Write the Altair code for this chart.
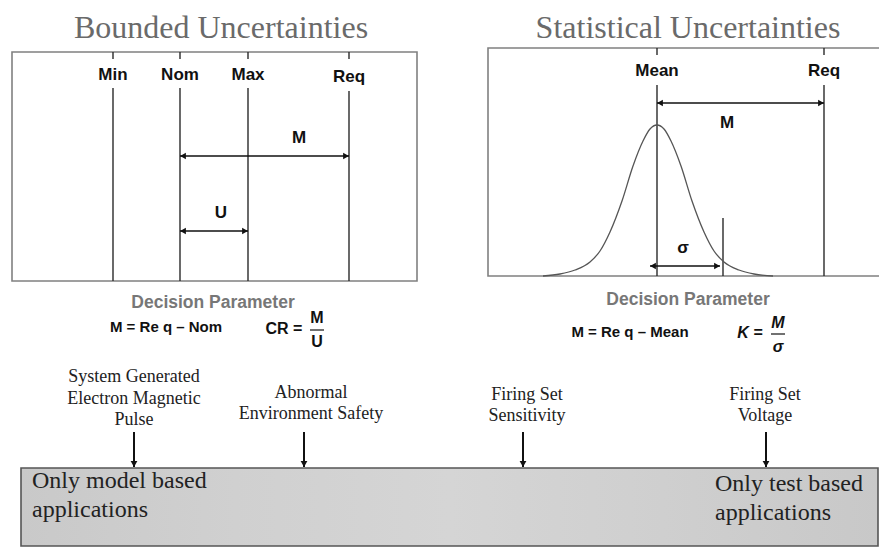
import altair as alt
import pandas as pd

# ---------------- data (diagram units = pixels) ----------------
panel_titles = ["Bounded Uncertainties", "Statistical Uncertainties"]
panel_title_x = [221, 688]
panel_title_y = [28, 28]

# bounded panel
bounded_frame_x = [12, 417]
bounded_frame_y = [52, 281]
bounded_labels = ["Min", "Nom", "Max", "Req"]
bounded_pos = [113, 180, 248, 349]
bounded_label_y = [75, 75, 75, 77]
bounded_line_top = [88, 88, 88, 91]
bounded_spans = ["M", "U"]
bounded_span_from = [180, 180]
bounded_span_to = [349, 248]
bounded_span_y = [156, 231]
bounded_span_label_x = [299, 221]
bounded_span_label_y = [138, 213]

# statistical panel
stat_frame_x = [488, 900]
stat_frame_y = [48, 276]
stat_labels = ["Mean", "Req"]
stat_pos = [657, 824]
stat_label_y = [71, 71]
stat_line_top = [85, 85]
stat_spans = ["M", "σ"]
stat_span_from = [657, 650]
stat_span_to = [824, 720]
stat_span_y = [103, 266]
stat_span_label_x = [727, 683]
stat_span_label_y = [123, 248]
sigma_marker_x = [723]
sigma_marker_top = [218]

curve_x = [543, 560, 575, 590, 600, 610, 622, 633, 643, 650, 657,
           664, 671, 681, 692, 704, 714, 724, 739, 754, 773]
curve_y = [276, 274, 270, 262, 251, 232, 201, 166, 141, 129, 125,
           129, 141, 166, 201, 232, 251, 262, 270, 274, 276]

# decision parameter captions
dp_title = ["Decision Parameter", "Decision Parameter"]
dp_title_x = [213, 688]
dp_title_y = [303, 300]
dp_formula = ["M = Re q \u2013 Nom", "M = Re q \u2013 Mean"]
dp_formula_x = [166, 630]
dp_formula_y = [327, 332]
ratio_lhs = ["CR =", "K ="]
ratio_lhs_x = [284, 750]
ratio_lhs_y = [329, 333]
ratio_num = ["M", "M"]
ratio_den = ["U", "\u03c3"]
ratio_x = [317, 778]
ratio_num_y = [318, 323]
ratio_den_y = [342, 347]
ratio_bar_y = [330, 334]
ratio_bar_half = [7, 7]

# applications
app_lines = [["System Generated", "Electron Magnetic", "Pulse"],
             ["Abnormal", "Environment Safety"],
             ["Firing Set", "Sensitivity"],
             ["Firing Set", "Voltage"]]
app_text_x = [134, 311, 527, 765]
app_last_line_y = [420, 414, 416, 416]
app_line_gap = 21.5
app_arrow_x = [134, 304, 523, 766]
app_arrow_top = 432
app_arrow_tip = 467

bar_x = [21, 878]
bar_y = [468, 546]
bar_text = [["Only model based", "applications"], ["Only test based", "applications"]]
bar_text_x = [32, 715]
bar_text_base = [488, 491]
bar_line_gap = 29

# ---------------- scales ----------------
xs = alt.Scale(domain=[8, 879], range=[0, 871], nice=False, zero=False)
ys = alt.Scale(domain=[8, 549], range=[0, 541], nice=False, zero=False)


def X(f="x"):
    return alt.X(f"{f}:Q", scale=xs, axis=None)


def Y(f="y"):
    return alt.Y(f"{f}:Q", scale=ys, axis=None)


def texts(df, **mk):
    base = dict(align="center", baseline="middle")
    base.update(mk)
    return alt.Chart(df).mark_text(**base).encode(x=X(), y=Y(), text="t:N")


SANS = "Liberation Sans"
SERIF = "Liberation Serif"
layers = []

# frames
frames = pd.DataFrame({
    "x": [bounded_frame_x[0], stat_frame_x[0]],
    "x2": [bounded_frame_x[1], stat_frame_x[1]],
    "y": [bounded_frame_y[0], stat_frame_y[0]],
    "y2": [bounded_frame_y[1], stat_frame_y[1]],
})
layers.append(alt.Chart(frames).mark_rect(fill="white", stroke="#808080", strokeWidth=1.6, clip=True)
              .encode(x=X(), x2=alt.X2("x2:Q"), y=Y(), y2=alt.Y2("y2:Q")))

# titles
layers.append(texts(pd.DataFrame({"x": panel_title_x, "y": panel_title_y, "t": panel_titles}),
                    font=SERIF, fontSize=32, color="#6a6a6a"))

# vertical marker lines (top tick + main line)
vx, vy, vy2 = [], [], []
for p, top in zip(bounded_pos, bounded_line_top):
    vx += [p, p]; vy += [bounded_frame_y[0], top]; vy2 += [bounded_frame_y[0] + 7, bounded_frame_y[1]]
for p, top in zip(stat_pos, stat_line_top):
    vx += [p, p]; vy += [stat_frame_y[0], top]; vy2 += [stat_frame_y[0] + 7, stat_frame_y[1]]
vx += sigma_marker_x; vy += sigma_marker_top; vy2 += [stat_frame_y[1]]
layers.append(alt.Chart(pd.DataFrame({"x": vx, "y": vy, "y2": vy2}))
              .mark_rule(color="#2a2a2a", strokeWidth=1.4)
              .encode(x=X(), y=Y(), y2=alt.Y2("y2:Q")))

# marker labels
layers.append(texts(pd.DataFrame({"x": bounded_pos + stat_pos,
                                  "y": bounded_label_y + stat_label_y,
                                  "t": bounded_labels + stat_labels}),
                    font=SANS, fontSize=17, fontWeight="bold", color="#111"))

# gaussian curve
layers.append(alt.Chart(pd.DataFrame({"x": curve_x, "y": curve_y}))
              .mark_line(color="#555", strokeWidth=1.3, interpolate="monotone")
              .encode(x=X(), y=Y(), order="x:Q"))

# span arrows
sp = pd.DataFrame({"x": bounded_span_from + stat_span_from,
                   "x2": bounded_span_to + stat_span_to,
                   "y": bounded_span_y + stat_span_y})
layers.append(alt.Chart(sp).mark_rule(color="#111", strokeWidth=1.6)
              .encode(x=X(), x2=alt.X2("x2:Q"), y=Y()))
layers.append(alt.Chart(sp).mark_point(shape="triangle-left", filled=True, size=45, color="#111",
                                       opacity=1, xOffset=3)
              .encode(x=X(), y=Y()))
layers.append(alt.Chart(sp.assign(x=sp["x2"])).mark_point(shape="triangle-right", filled=True, size=45,
                                                           color="#111", opacity=1, xOffset=-3)
              .encode(x=X(), y=Y()))
layers.append(texts(pd.DataFrame({"x": bounded_span_label_x + stat_span_label_x,
                                  "y": bounded_span_label_y + stat_span_label_y,
                                  "t": bounded_spans + stat_spans}),
                    font=SANS, fontSize=17, fontWeight="bold", color="#111"))

# decision parameter captions
layers.append(texts(pd.DataFrame({"x": dp_title_x, "y": dp_title_y, "t": dp_title}),
                    font=SANS, fontSize=17.5, fontWeight="bold", color="#777"))
layers.append(texts(pd.DataFrame({"x": dp_formula_x, "y": dp_formula_y, "t": dp_formula}),
                    font=SANS, fontSize=15, fontWeight="bold", color="#111"))
layers.append(texts(pd.DataFrame({"x": ratio_lhs_x[:1], "y": ratio_lhs_y[:1], "t": ratio_lhs[:1]}),
                    font=SANS, fontSize=16, fontWeight="bold", color="#111"))
layers.append(texts(pd.DataFrame({"x": ratio_lhs_x[1:], "y": ratio_lhs_y[1:], "t": ratio_lhs[1:]}),
                    font=SANS, fontSize=16, fontWeight="bold", fontStyle="italic", color="#111"))
layers.append(texts(pd.DataFrame({"x": ratio_x[:1] * 2, "y": [ratio_num_y[0], ratio_den_y[0]],
                                  "t": [ratio_num[0], ratio_den[0]]}),
                    font=SANS, fontSize=16, fontWeight="bold", color="#111"))
layers.append(texts(pd.DataFrame({"x": ratio_x[1:] * 2, "y": [ratio_num_y[1], ratio_den_y[1]],
                                  "t": [ratio_num[1], ratio_den[1]]}),
                    font=SANS, fontSize=16, fontWeight="bold", fontStyle="italic", color="#111"))
layers.append(alt.Chart(pd.DataFrame({"x": [a - h for a, h in zip(ratio_x, ratio_bar_half)],
                                      "x2": [a + h for a, h in zip(ratio_x, ratio_bar_half)],
                                      "y": ratio_bar_y}))
              .mark_rule(color="#111", strokeWidth=1.2)
              .encode(x=X(), x2=alt.X2("x2:Q"), y=Y()))

# application labels
ax, ay, at = [], [], []
for lines, cx, ly in zip(app_lines, app_text_x, app_last_line_y):
    n = len(lines)
    for i, ln in enumerate(lines):
        ax.append(cx); ay.append(ly - (n - 1 - i) * app_line_gap); at.append(ln)
layers.append(texts(pd.DataFrame({"x": ax, "y": ay, "t": at}),
                    font=SERIF, fontSize=18, color="#222"))

# down arrows
arr = pd.DataFrame({"x": app_arrow_x, "y": [app_arrow_top] * 4, "y2": [app_arrow_tip] * 4})
layers.append(alt.Chart(arr).mark_rule(color="#111", strokeWidth=2)
              .encode(x=X(), y=Y(), y2=alt.Y2("y2:Q")))
layers.append(alt.Chart(arr.assign(y=arr["y2"])).mark_point(shape="triangle-down", filled=True, size=45,
                                                             color="#111", opacity=1, yOffset=-3)
              .encode(x=X(), y=Y()))

# application bar
grad = alt.Gradient(gradient="linear", x1=0, x2=1, y1=0, y2=0,
                    stops=[alt.GradientStop(color="#c9c9c9", offset=0),
                           alt.GradientStop(color="#d0d0d0", offset=0.25),
                           alt.GradientStop(color="#d5d5d5", offset=0.5),
                           alt.GradientStop(color="#cfcfcf", offset=0.75),
                           alt.GradientStop(color="#c8c8c8", offset=1)])
layers.append(alt.Chart(pd.DataFrame({"x": [bar_x[0]], "x2": [bar_x[1]], "y": [bar_y[0]], "y2": [bar_y[1]]}))
              .mark_rect(fill=grad, stroke="#555", strokeWidth=1.6)
              .encode(x=X(), x2=alt.X2("x2:Q"), y=Y(), y2=alt.Y2("y2:Q")))
bx, by, bt = [], [], []
for lines, x0, b0 in zip(bar_text, bar_text_x, bar_text_base):
    for i, ln in enumerate(lines):
        bx.append(x0); by.append(b0 + i * bar_line_gap); bt.append(ln)
layers.append(texts(pd.DataFrame({"x": bx, "y": by, "t": bt}),
                    font=SERIF, fontSize=24, color="#222", align="left", baseline="alphabetic"))

chart = (alt.layer(*layers)
         .properties(width=871, height=541, padding=0, background="white",
                     autosize=alt.AutoSizeParams(type="none"))
         .configure_view(strokeWidth=0))

chart.save("out.html", embed_options={"renderer": "svg", "actions": False})
